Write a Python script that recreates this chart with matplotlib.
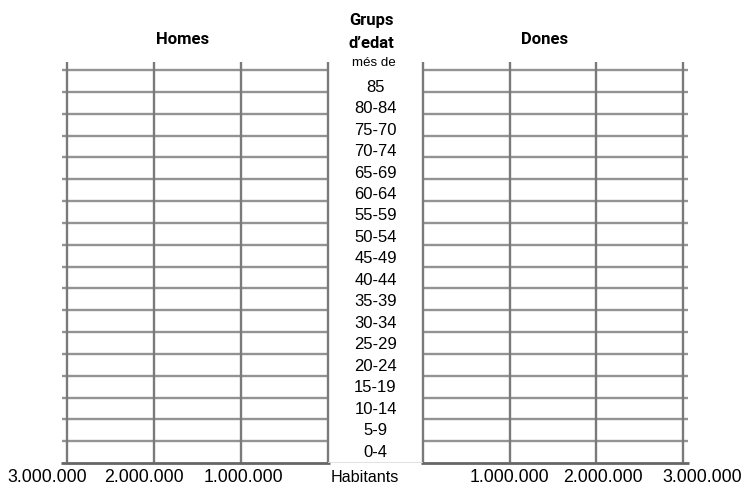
import matplotlib.pyplot as plt
from matplotlib import font_manager

# age groups, oldest on top
grups = ['85', '80-84', '75-70', '70-74', '65-69', '60-64', '55-59', '50-54',
         '45-49', '40-44', '35-39', '30-34', '25-29', '20-24', '15-19',
         '10-14', '5-9', '0-4']
ticks = [1000000, 2000000, 3000000]
tick_labels = ['1.000.000', '2.000.000', '3.000.000']
# label shift in pixels for each tick (left side / right side)
shift_left = [2, -10, -20]
shift_right = [0, 7, 19]

names = {f.name for f in font_manager.fontManager.ttflist}
narrow = 'Liberation Sans Narrow' if 'Liberation Sans Narrow' in names else 'Roboto'
plt.rcParams['font.family'] = ['Liberation Sans', 'DejaVu Sans']

W, H = 742, 488
fig = plt.figure(figsize=(W / 100, H / 100), dpi=100)

def box(x0, x1, y0=70, y1=463):
    return [x0 / W, 1 - y1 / H, (x1 - x0) / W, (y1 - y0) / H]

n = len(grups)
xmax = ticks[-1]
stub = 0.06e6
grid_c = '#939393'
vert_c = '#7a7a7a'

axl = fig.add_axes(box(67, 328))
axr = fig.add_axes(box(423, 683))
axm = fig.add_axes(box(328, 423))

for ax, sign in ((axl, -1), (axr, 1)):
    ax.set_xlim(0, xmax)
    ax.set_ylim(0, n)
    if sign < 0:
        ax.invert_xaxis()
    ax.axis('off')
    ax.hlines(range(1, n + 1), 0, xmax + stub, color=grid_c, lw=1.7, clip_on=False)
    ax.vlines([0] + ticks, 0, n + 0.37, color=vert_c, lw=1.7, clip_on=False)
    ax.hlines(0, -stub * 0.3, xmax + stub * 1.2, color='#666666', lw=2, clip_on=False)

# faint frame of the central column
axm.set_xlim(0, 1)
axm.set_ylim(0, n)
axm.axis('off')
axm.hlines(0, 0, 1, color='#dddddd', lw=1.2)

step = 0.983
for i, g in enumerate(reversed(grups)):
    axm.text(0.5, 0.5 + i * step, g, ha='center', va='center', fontsize=12)

for t, lab, dx in zip(ticks, tick_labels, shift_left):
    axl.annotate(lab, (t, 0), xytext=(dx, -15), textcoords='offset pixels',
                 ha='center', va='center', fontsize=12.8)
for t, lab, dx in zip(ticks, tick_labels, shift_right):
    axr.annotate(lab, (t, 0), xytext=(dx, -15), textcoords='offset pixels',
                 ha='center', va='center', fontsize=12.8)
fig.text(365 / W, 1 - 478 / H, 'Habitants', ha='center', va='center', fontsize=11.6)

tkw = dict(ha='center', va='center', fontsize=12, fontweight='bold', family=narrow)
fig.text(183 / W, 1 - 40 / H, 'Homes', **tkw)
fig.text(545 / W, 1 - 40 / H, 'Dones', **tkw)
fig.text(371 / W, 1 - 20 / H, 'Grups', **tkw)
fig.text(371 / W, 1 - 43 / H, 'd\u2019edat', **tkw)
fig.text(374 / W, 1 - 63 / H, 'més de', ha='center', va='center', fontsize=9.6)

fig.savefig('out.png', dpi=100, facecolor='white')
